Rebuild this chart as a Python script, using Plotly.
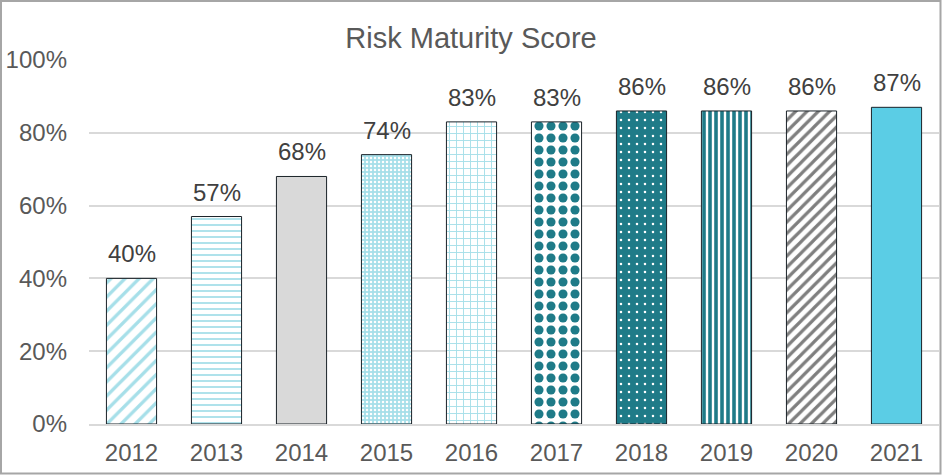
import plotly.graph_objects as go

years = ["2012", "2013", "2014", "2015", "2016", "2017", "2018", "2019", "2020", "2021"]
scores = [0.40, 0.57, 0.68, 0.74, 0.83, 0.83, 0.86, 0.86, 0.86, 0.87]
labels = ["40%", "57%", "68%", "74%", "83%", "83%", "86%", "86%", "86%", "87%"]
y_ticks = [0, 0.2, 0.4, 0.6, 0.8, 1.0]
y_tick_text = ["0%", "20%", "40%", "60%", "80%", "100%"]

LC = "#A6DFE9"   # light cyan
TEAL = "#1F7B88"
GREY = "#D9D9D9"
CYAN = "#5BCDE5"
shapes_p = ["/", "-", ".", ".", "+", ".", ".", "|", "/", "."]
fg = [LC, LC, GREY, "#FFFFFF", LC, TEAL, "#FFFFFF", TEAL, "#7F7F7F", CYAN]
bg = ["#FFFFFF", "#FFFFFF", GREY, LC, "#FFFFFF", "#FFFFFF", TEAL, "#FFFFFF", "#FFFFFF", CYAN]
psize = [10, 6, 8, 4, 7, 12, 8, 6, 8, 8]
psol = [0.33, 0.3, 0.3, 0.3, 0.25, 0.45, 0.08, 0.6, 0.4, 0.3]

fig = go.Figure(go.Bar(
    x=years, y=scores,
    width=0.59,
    marker=dict(
        color="#FFFFFF",
        line=dict(color="#1A2228", width=1),
        pattern=dict(shape=shapes_p, fgcolor=fg, bgcolor=bg, size=psize,
                     solidity=psol, fillmode="replace", fgopacity=1),
    ),
    hoverinfo="skip",
))

for i, (sc, lb) in enumerate(zip(scores, labels)):
    fig.add_annotation(x=i, y=sc, xref="x", yref="y", text=lb, showarrow=False,
                       yanchor="bottom", yshift=9,
                       font=dict(size=24, color="#404040"))

L, R, T, B = 89, 3, 60, 51
W, H = 942, 475
pw = W - L - R
ph = H - T - B

def px_x(p):
    return (p - L) / pw

def px_y(p):
    return (H - B - p) / ph

fig.update_layout(
    width=W, height=H,
    margin=dict(l=L, r=R, t=T, b=B),
    paper_bgcolor="white", plot_bgcolor="white",
    font=dict(family="Liberation Sans, Arial", color="#595959"),
    title=dict(text="Risk Maturity Score", x=0.5, xanchor="center",
               y=1 - 38 / H, yanchor="middle", yref="container",
               font=dict(size=29, color="#595959")),
    showlegend=False,
    xaxis=dict(type="category", range=[-0.5, len(years) - 0.5],
               showgrid=False, showline=True, linecolor="#D9D9D9", linewidth=2,
               tickfont=dict(size=24, color="#595959"), ticks="",
               ticklabelstandoff=6),
    yaxis=dict(range=[0, 1], tickvals=y_ticks, ticktext=y_tick_text,
               showgrid=True, gridcolor="#D9D9D9", gridwidth=2,
               zeroline=False, showline=False, ticks="",
               tickfont=dict(size=24, color="#595959"),
               ticklabelstandoff=21),
    shapes=[dict(type="rect", xref="paper", yref="paper",
                 x0=px_x(1), x1=px_x(940.5), y0=px_y(473.5), y1=px_y(1),
                 line=dict(color="#A6A6A6", width=2), fillcolor="rgba(0,0,0,0)",
                 layer="above")],
)

fig.write_html("out.html", config={"displayModeBar": False},
               post_script="document.body.style.margin='0';document.body.style.padding='0';")
